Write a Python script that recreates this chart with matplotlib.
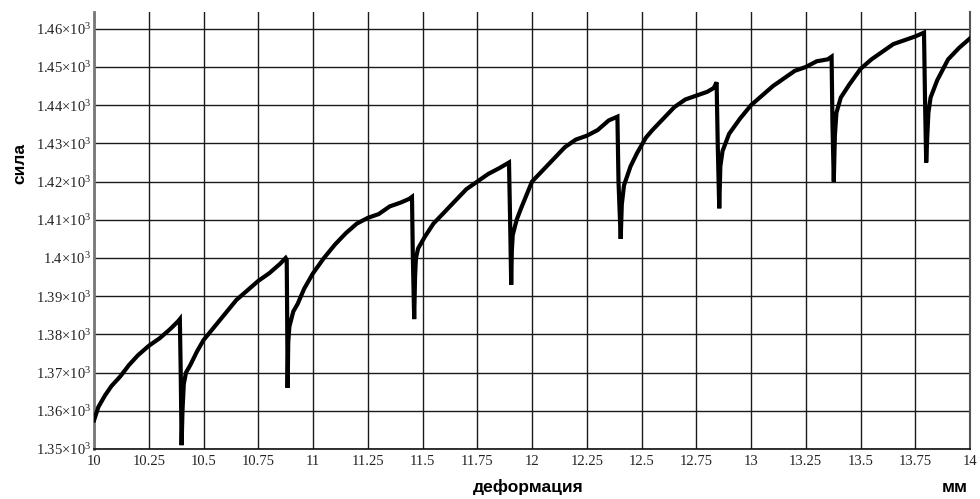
import matplotlib
matplotlib.use("Agg")
import matplotlib.pyplot as plt

plt.rcParams["mathtext.fontset"] = "custom"
plt.rcParams["mathtext.rm"] = "Liberation Serif"
plt.rcParams["mathtext.it"] = "Liberation Serif:italic"
plt.rcParams["mathtext.bf"] = "Liberation Serif:bold"

# deformation (mm) and force readings
deformation = [
    10.000, 10.02, 10.05, 10.08, 10.12, 10.16, 10.20, 10.25, 10.30, 10.35, 10.385, 10.392,
    10.396, 10.400, 10.404, 10.41, 10.42, 10.44, 10.47, 10.50, 10.55, 10.60, 10.65, 10.70, 10.75, 10.80, 10.85, 10.875, 10.880,
    10.882, 10.884, 10.887, 10.892, 10.91, 10.93, 10.96, 11.00, 11.05, 11.10, 11.15, 11.20, 11.25, 11.30, 11.35, 11.40, 11.44, 11.452,
    11.456, 11.462, 11.466, 11.47, 11.48, 11.51, 11.55, 11.60, 11.65, 11.70, 11.75, 11.80, 11.85, 11.895,
    11.900, 11.905, 11.908, 11.912, 11.93, 11.95, 12.00, 12.05, 12.10, 12.15, 12.20, 12.25, 12.30, 12.35, 12.39,
    12.395, 12.405, 12.41, 12.42, 12.45, 12.48, 12.52, 12.55, 12.60, 12.65, 12.70, 12.75, 12.80, 12.83, 12.843,
    12.848, 12.855, 12.86, 12.87, 12.90, 12.95, 13.00, 13.05, 13.10, 13.15, 13.20, 13.25, 13.30, 13.35, 13.368,
    13.372, 13.378, 13.383, 13.39, 13.41, 13.45, 13.50, 13.55, 13.60, 13.65, 13.70, 13.75, 13.79,
    13.795, 13.800, 13.805, 13.81, 13.82, 13.85, 13.90, 13.95, 14.00,
]
force = [
    1357.5, 1361, 1364, 1366.5, 1369, 1372, 1374.5, 1377, 1379, 1381.5, 1383.5, 1384,
    1370, 1351, 1360, 1367, 1370, 1372, 1375.5, 1378.5, 1382, 1385.5, 1389, 1391.5, 1394, 1396, 1398.5, 1400, 1399.5,
    1385, 1366, 1378, 1382, 1386, 1388, 1392, 1396, 1400, 1403.5, 1406.5, 1409, 1410.5, 1411.5, 1413.5, 1414.5, 1415.5, 1416,
    1400, 1384, 1395, 1400, 1402.5, 1405.5, 1409, 1412, 1415, 1418, 1420, 1422, 1423.5, 1425,
    1410, 1393, 1402, 1406, 1410, 1413, 1420, 1423, 1426, 1429, 1431, 1432, 1433.5, 1436, 1437,
    1420, 1405, 1414, 1419, 1424, 1427.5, 1431.5, 1433.5, 1436.5, 1439.5, 1441.5, 1442.5, 1443.5, 1444.5, 1446,
    1430, 1413, 1424, 1428, 1432.5, 1436.5, 1440, 1442.5, 1445, 1447, 1449, 1450, 1451.5, 1452, 1452.7,
    1435, 1420, 1432, 1438, 1442, 1445.5, 1449.5, 1452, 1454, 1456, 1457, 1458, 1459,
    1440, 1425, 1432, 1438, 1442, 1446.5, 1452, 1455, 1457.5,
]

x_ticks = [10, 10.25, 10.5, 10.75, 11, 11.25, 11.5, 11.75, 12, 12.25, 12.5, 12.75, 13, 13.25, 13.5, 13.75, 14]
x_tick_labels = ["10", "10.25", "10.5", "10.75", "11", "11.25", "11.5", "11.75", "12",
                 "12.25", "12.5", "12.75", "13", "13.25", "13.5", "13.75", "14"]
y_ticks = [1350, 1360, 1370, 1380, 1390, 1400, 1410, 1420, 1430, 1440, 1450, 1460]
y_tick_mantissas = ["1.35", "1.36", "1.37", "1.38", "1.39", "1.4",
                    "1.41", "1.42", "1.43", "1.44", "1.45", "1.46"]
y_tick_labels = [r"$\mathrm{%s}{\times}\mathrm{10}^{\mathrm{3}}$" % m for m in y_tick_mantissas]

fig = plt.figure(figsize=(9.8, 4.99), dpi=100)
ax = fig.add_axes([94/980, 50/499, 876/980, 437/499])

ax.plot(deformation, force, color="black", lw=3.0, solid_joinstyle="miter", zorder=3)

ax.set_xlim(10, 14)
ax.set_ylim(1350, 1464.4)
ax.set_xticks(x_ticks)
ax.set_xticklabels(x_tick_labels, fontfamily="Liberation Serif", fontsize=10.5, color="#222222")
ax.set_yticks(y_ticks)
ax.set_yticklabels(y_tick_labels, fontsize=10.5, color="#222222")
ax.tick_params(length=0, pad=4)
ax.tick_params(axis="y", pad=2)
ax.grid(True, color="#1a1a1a", lw=1.0, zorder=1)
ax.set_axisbelow(True)

ax.spines["top"].set_visible(False)
ax.spines["left"].set_color("#777777")
ax.spines["left"].set_linewidth(2)
ax.spines["bottom"].set_color("#111111")
ax.spines["bottom"].set_linewidth(1.2)
ax.spines["right"].set_color("#555555")
ax.spines["right"].set_linewidth(1.5)

fig.text(20/980, 1 - 163/499, "сила", rotation=90, ha="center", va="center",
         fontfamily="Liberation Sans", fontweight="bold", fontsize=12.5)
fig.text(528/980, 1 - 487/499, "деформация", ha="center", va="center",
         fontfamily="Liberation Sans", fontweight="bold", fontsize=12.5)
fig.text(955/980, 1 - 487/499, "мм", ha="center", va="center",
         fontfamily="Liberation Sans", fontweight="bold", fontsize=12.5)

fig.savefig("out.png", dpi=100)
